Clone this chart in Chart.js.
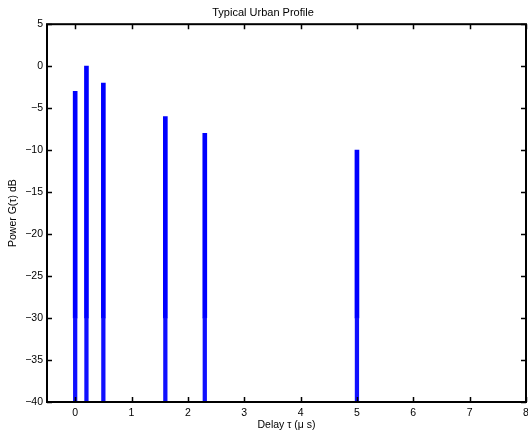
<!DOCTYPE html>
<html>
<head>
<meta charset="utf-8">
<script src="https://cdn.jsdelivr.net/npm/chart.js@4.4.0/dist/chart.umd.min.js"></script>
<style>
  html, body { margin: 0; padding: 0; background: #fff; }
  #wrap { width: 528px; height: 435px; }
</style>
</head>
<body>
<div id="wrap"><canvas id="profileChart"></canvas></div>
<script>
// Typical urban power delay profile
const delays = [0, 0.2, 0.5, 1.6, 2.3, 5.0];
const powers = [-3, 0, -2, -6, -8, -10];
const floorLevel = -40;
const splitLevel = -30;
const xTicks = [0, 1, 2, 3, 4, 5, 6, 7, 8];
const yTicks = [-40, -35, -30, -25, -20, -15, -10, -5, 0, 5];

const fontFamily = "'Liberation Sans', Arial, Helvetica, sans-serif";

// MATLAB-style box with inward ticks on all four sides
const matlabBox = {
  id: 'matlabBox',
  afterDraw(chart) {
    const { ctx, chartArea: a, scales: { x, y } } = chart;
    const len = 5;
    ctx.save();
    ctx.strokeStyle = '#000';
    ctx.lineWidth = 1.5;
    ctx.beginPath();
    xTicks.forEach(v => {
      const px = Math.round(x.getPixelForValue(v)) + 0.5;
      ctx.moveTo(px, a.bottom); ctx.lineTo(px, a.bottom - len);
      ctx.moveTo(px, a.top); ctx.lineTo(px, a.top + len);
    });
    yTicks.forEach(v => {
      const py = Math.round(y.getPixelForValue(v)) + 0.5;
      ctx.moveTo(a.left, py); ctx.lineTo(a.left + len, py);
      ctx.moveTo(a.right, py); ctx.lineTo(a.right - len, py);
    });
    ctx.stroke();
    ctx.lineWidth = 2;
    ctx.strokeRect(a.left, a.top, a.right - a.left, a.bottom - a.top);
    ctx.restore();
  }
};

const ctx = document.getElementById('profileChart');
new Chart(ctx, {
  type: 'bar',
  data: {
    datasets: [
      {
        // lower part of each path, a touch lighter as in the original
        data: delays.map(d => ({ x: d, y: [floorLevel, splitLevel] })),
        backgroundColor: '#1010ff',
        barThickness: 3.6,
        grouped: false
      },
      {
        data: delays.map((d, i) => ({ x: d, y: [splitLevel, powers[i]] })),
        backgroundColor: '#0000ff',
        barThickness: 4,
        grouped: false
      }
    ]
  },
  options: {
    responsive: true,
    maintainAspectRatio: false,
    devicePixelRatio: 1,
    animation: false,
    layout: { padding: { left: 0, right: 2, top: 0, bottom: 0 } },
    plugins: {
      legend: { display: false },
      tooltip: { enabled: false },
      title: {
        display: true,
        text: 'Typical Urban Profile',
        color: '#000',
        font: { family: fontFamily, size: 11, weight: 'normal' },
        padding: { top: 6, bottom: 5 }
      }
    },
    scales: {
      x: {
        type: 'linear',
        min: -0.5,
        max: 8,
        offset: false,
        grid: { display: false, drawTicks: false },
        border: { display: false },
        afterBuildTicks: scale => { scale.ticks = xTicks.map(v => ({ value: v })); },
        afterFit: scale => {
          scale.height = 33;
          scale.paddingLeft = 0;
          scale.paddingRight = 0;
        },
        ticks: {
          color: '#000',
          padding: 5,
          font: { family: fontFamily, size: 10.5 },
          callback: v => String(v)
        },
        title: {
          display: true,
          text: 'Delay τ (μ s)',
          color: '#000',
          font: { family: fontFamily, size: 10.5 },
          padding: { top: 0, bottom: 4 }
        }
      },
      y: {
        min: floorLevel,
        max: 5,
        grid: { display: false, drawTicks: false },
        border: { display: false },
        afterBuildTicks: scale => { scale.ticks = yTicks.map(v => ({ value: v })); },
        afterFit: scale => {
          scale.width = 47;
          scale.paddingTop = 0;
          scale.paddingBottom = 0;
        },
        ticks: {
          color: '#000',
          padding: 4,
          font: { family: fontFamily, size: 10.5 },
          callback: v => String(v).replace('-', '\u2212')
        },
        title: {
          display: true,
          text: 'Power G(τ) dB',
          color: '#000',
          font: { family: fontFamily, size: 10.5 },
          padding: { top: 7, bottom: 0 }
        }
      }
    }
  },
  plugins: [matlabBox]
});
</script>
</body>
</html>
